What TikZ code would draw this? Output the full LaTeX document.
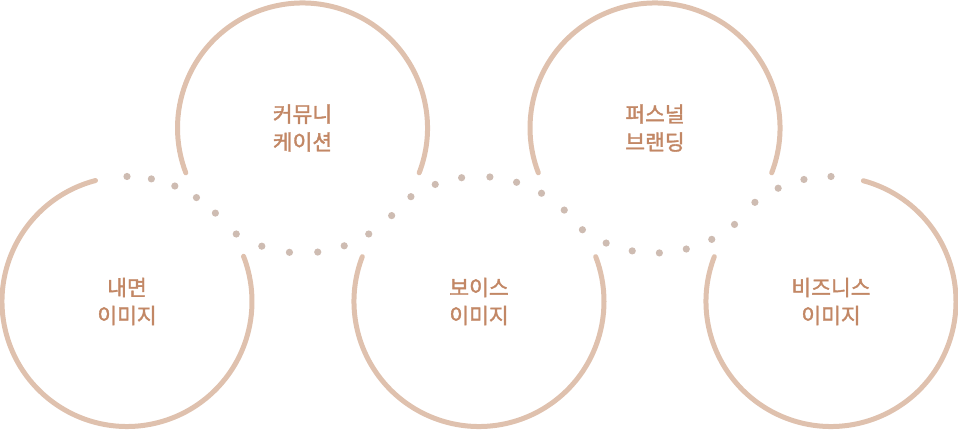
\documentclass[tikz,border=0pt]{standalone}
\usepackage{fontspec}
\newfontfamily\kr[FakeBold=1.6]{Noto Sans CJK KR}
\usepackage{tikz}
\usetikzlibrary{calc}
\usepackage{xcolor}
\definecolor{ringc}{RGB}{223,193,174}
\definecolor{dotc}{RGB}{206,188,178}
\definecolor{txtc}{RGB}{194,135,101}

\begin{document}
\begin{tikzpicture}[x=1pt, y=1pt,
  ring/.style={draw=ringc, line width=5pt, line cap=round},
  dotmark/.style={fill=dotc},
  label/.style={text=txtc, align=center, font=\kr\fontsize{21.5}{28}\selectfont, inner sep=0pt}]
\useasboundingbox (0,0) rectangle (958,430);
% one circle: name, centre, solid arc from/to, dot angles, text
\def\ring#1#2#3#4#5#6{%
  \coordinate (#1) at (#2);
  \node[label] (t#1) at (#1) {#6};
  \draw[ring] (#1) ++(#3:125) arc[start angle=#3, end angle=#4, radius=125];
  \foreach \a in {#5} \fill[dotmark] (#1) ++(\a:125) circle (3.6);}
\ring{inner}{127,128.5}{104.6}{381.2}{90,78.75,67.5,56.25,45}{내면\\이미지}
\ring{comm}{302.5,302}{-21}{201}{238,251,264,277,289.5,302,315.5}{커뮤니\\케이션}
\ring{voice}{479,128.5}{159}{381}{123,110.5,98,85,72.5,60,47}{보이스\\이미지}
\ring{brand}{655,302}{-21}{201}{234.5,247,259.5,272,284.5,297,309.5}{퍼스널\\브랜딩}
\ring{biz}{831,128.5}{159}{435}{127.5,115,102.5,90}{비즈니스\\이미지}
\end{tikzpicture}
\end{document}
